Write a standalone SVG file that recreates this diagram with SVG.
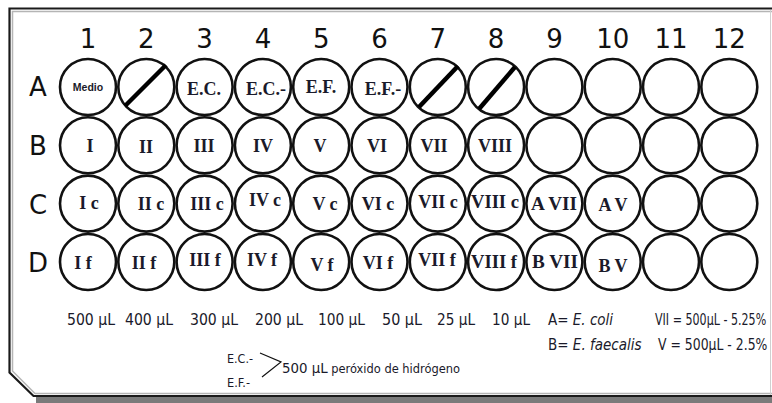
<svg xmlns="http://www.w3.org/2000/svg" width="772" height="403" viewBox="0 0 772 403">
<style>
.well{fill:#fff;stroke:#111;stroke-width:2.6}
.slash{stroke:#000;stroke-width:4.5;stroke-linecap:butt}
.hdr{font-family:"DejaVu Sans",sans-serif;font-size:26px;fill:#111;text-anchor:middle}
.wt{font-family:"Liberation Serif",serif;font-weight:bold;font-size:18px;fill:#1a1a2a;text-anchor:middle}
.med{font-family:"Liberation Sans",sans-serif;font-weight:bold;font-size:10.5px;fill:#1a1a2a;text-anchor:middle}
.cond{font-family:"DejaVu Sans",sans-serif;font-stretch:condensed;font-size:15px;fill:#1a1a2a}
.sq{font-family:"DejaVu Sans",sans-serif;font-size:15px;fill:#1a1a2a}
.small{font-family:"DejaVu Sans",sans-serif;font-stretch:condensed;font-size:12px;fill:#1a1a2a}
.conn{fill:none;stroke:#111;stroke-width:1.2}
</style>
<rect width="772" height="403" fill="#fff"/>
<g id="plate">
<rect x="36" y="397" width="740" height="6" fill="#7a7a7a"/>
<path d="M775 11.5H12.5V371L35 393.5H775" fill="none" stroke="#b5b5b5" stroke-width="1.5"/>
<path d="M775 8.5H9.5V372.5L33.5 396H775" fill="none" stroke="#1a1a1a" stroke-width="2.2"/>
<line x1="770.5" y1="10" x2="770.5" y2="395" stroke="#d0d0d0" stroke-width="1"/>
</g>
<g id="column-labels">
<text class="hdr" x="88" y="48">1</text>
<text class="hdr" x="146.3" y="48">2</text>
<text class="hdr" x="204.6" y="48">3</text>
<text class="hdr" x="262.9" y="48">4</text>
<text class="hdr" x="321.2" y="48">5</text>
<text class="hdr" x="379.5" y="48">6</text>
<text class="hdr" x="437.8" y="48">7</text>
<text class="hdr" x="496.1" y="48">8</text>
<text class="hdr" x="554.4" y="48">9</text>
<text class="hdr" x="612.7" y="48">10</text>
<text class="hdr" x="671" y="48">11</text>
<text class="hdr" x="729.3" y="48">12</text>
</g>
<g id="row-labels">
<text class="hdr" x="38" y="96">A</text>
<text class="hdr" x="38" y="155">B</text>
<text class="hdr" x="38" y="214">C</text>
<text class="hdr" x="38" y="272">D</text>
</g>
<g id="row-A">
<g id="A1"><circle class="well" cx="88" cy="87" r="28"/><text class="med" x="88" y="91">Medio</text></g>
<g id="A2"><circle class="well" cx="146.3" cy="87" r="28"/><line class="slash" x1="125" y1="106" x2="166" y2="65"/></g>
<g id="A3"><circle class="well" cx="204.6" cy="87" r="28"/><text class="wt" x="204" y="95" font-weight="normal">E.C.</text></g>
<g id="A4"><circle class="well" cx="262.9" cy="87" r="28"/><text class="wt" x="266" y="95" font-weight="normal">E.C.-</text></g>
<g id="A5"><circle class="well" cx="321.2" cy="87" r="28"/><text class="wt" x="321" y="93" font-weight="normal">E.F.</text></g>
<g id="A6"><circle class="well" cx="379.5" cy="87" r="28"/><text class="wt" x="383" y="95" font-weight="normal">E.F.-</text></g>
<g id="A7"><circle class="well" cx="437.8" cy="87" r="28"/><line class="slash" x1="419" y1="107" x2="458" y2="66"/></g>
<g id="A8"><circle class="well" cx="496.1" cy="87" r="28"/><line class="slash" x1="479" y1="109" x2="515" y2="67"/></g>
<g id="A9"><circle class="well" cx="554.4" cy="87" r="28"/></g>
<g id="A10"><circle class="well" cx="612.7" cy="87" r="28"/></g>
<g id="A11"><circle class="well" cx="671" cy="87" r="28"/></g>
<g id="A12"><circle class="well" cx="729.3" cy="87" r="28"/></g>
</g>
<g id="row-B">
<g id="B1"><circle class="well" cx="88" cy="145.3" r="28"/><text class="wt" x="90" y="152">I</text></g>
<g id="B2"><circle class="well" cx="146.3" cy="145.3" r="28"/><text class="wt" x="146" y="153">II</text></g>
<g id="B3"><circle class="well" cx="204.6" cy="145.3" r="28"/><text class="wt" x="204" y="152">III</text></g>
<g id="B4"><circle class="well" cx="262.9" cy="145.3" r="28"/><text class="wt" x="263" y="152">IV</text></g>
<g id="B5"><circle class="well" cx="321.2" cy="145.3" r="28"/><text class="wt" x="320" y="152">V</text></g>
<g id="B6"><circle class="well" cx="379.5" cy="145.3" r="28"/><text class="wt" x="377" y="152">VI</text></g>
<g id="B7"><circle class="well" cx="437.8" cy="145.3" r="28"/><text class="wt" x="434" y="152">VII</text></g>
<g id="B8"><circle class="well" cx="496.1" cy="145.3" r="28"/><text class="wt" x="495" y="152">VIII</text></g>
<g id="B9"><circle class="well" cx="554.4" cy="145.3" r="28"/></g>
<g id="B10"><circle class="well" cx="612.7" cy="145.3" r="28"/></g>
<g id="B11"><circle class="well" cx="671" cy="145.3" r="28"/></g>
<g id="B12"><circle class="well" cx="729.3" cy="145.3" r="28"/></g>
</g>
<g id="row-C">
<g id="C1"><circle class="well" cx="88" cy="203.6" r="28"/><text class="wt" x="89" y="209">I c</text></g>
<g id="C2"><circle class="well" cx="146.3" cy="203.6" r="28"/><text class="wt" x="151" y="210">II c</text></g>
<g id="C3"><circle class="well" cx="204.6" cy="203.6" r="28"/><text class="wt" x="207" y="210">III c</text></g>
<g id="C4"><circle class="well" cx="262.9" cy="203.6" r="28"/><text class="wt" x="265" y="206">IV c</text></g>
<g id="C5"><circle class="well" cx="321.2" cy="203.6" r="28"/><text class="wt" x="325" y="210">V c</text></g>
<g id="C6"><circle class="well" cx="379.5" cy="203.6" r="28"/><text class="wt" x="378" y="210">VI c</text></g>
<g id="C7"><circle class="well" cx="437.8" cy="203.6" r="28"/><text class="wt" x="438" y="208">VII c</text></g>
<g id="C8"><circle class="well" cx="496.1" cy="203.6" r="28"/><text class="wt" x="495" y="208" textLength="48" lengthAdjust="spacingAndGlyphs">VIII c</text></g>
<g id="C9"><circle class="well" cx="554.4" cy="203.6" r="28"/><text class="wt" x="554" y="210" textLength="46" lengthAdjust="spacingAndGlyphs">A VII</text></g>
<g id="C10"><circle class="well" cx="612.7" cy="203.6" r="28"/><text class="wt" x="613" y="211">A V</text></g>
<g id="C11"><circle class="well" cx="671" cy="203.6" r="28"/></g>
<g id="C12"><circle class="well" cx="729.3" cy="203.6" r="28"/></g>
</g>
<g id="row-D">
<g id="D1"><circle class="well" cx="88" cy="262" r="28"/><text class="wt" x="83" y="269">I f</text></g>
<g id="D2"><circle class="well" cx="146.3" cy="262" r="28"/><text class="wt" x="144" y="269">II f</text></g>
<g id="D3"><circle class="well" cx="204.6" cy="262" r="28"/><text class="wt" x="205" y="266">III f</text></g>
<g id="D4"><circle class="well" cx="262.9" cy="262" r="28"/><text class="wt" x="262" y="266">IV f</text></g>
<g id="D5"><circle class="well" cx="321.2" cy="262" r="28"/><text class="wt" x="322" y="271">V f</text></g>
<g id="D6"><circle class="well" cx="379.5" cy="262" r="28"/><text class="wt" x="378" y="269">VI f</text></g>
<g id="D7"><circle class="well" cx="437.8" cy="262" r="28"/><text class="wt" x="437" y="266">VII f</text></g>
<g id="D8"><circle class="well" cx="496.1" cy="262" r="28"/><text class="wt" x="494" y="268" textLength="46" lengthAdjust="spacingAndGlyphs">VIII f</text></g>
<g id="D9"><circle class="well" cx="554.4" cy="262" r="28"/><text class="wt" x="555" y="268" textLength="46" lengthAdjust="spacingAndGlyphs">B VII</text></g>
<g id="D10"><circle class="well" cx="612.7" cy="262" r="28"/><text class="wt" x="613" y="272">B V</text></g>
<g id="D11"><circle class="well" cx="671" cy="262" r="28"/></g>
<g id="D12"><circle class="well" cx="729.3" cy="262" r="28"/></g>
</g>
<g id="volumes">
<text class="cond" x="67" y="325" textLength="48" lengthAdjust="spacingAndGlyphs">500 µL</text>
<text class="cond" x="125" y="325" textLength="48" lengthAdjust="spacingAndGlyphs">400 µL</text>
<text class="cond" x="190" y="325" textLength="48" lengthAdjust="spacingAndGlyphs">300 µL</text>
<text class="cond" x="255" y="325" textLength="48" lengthAdjust="spacingAndGlyphs">200 µL</text>
<text class="cond" x="318" y="325" textLength="47" lengthAdjust="spacingAndGlyphs">100 µL</text>
<text class="cond" x="382" y="325" textLength="40" lengthAdjust="spacingAndGlyphs">50 µL</text>
<text class="cond" x="437" y="325" textLength="38" lengthAdjust="spacingAndGlyphs">25 µL</text>
<text class="cond" x="492" y="325" textLength="38" lengthAdjust="spacingAndGlyphs">10 µL</text>
</g>
<g id="legend">
<text class="cond" x="548" y="325">A= <tspan font-style="italic">E. coli</tspan></text>
<text class="cond" x="548" y="350">B= <tspan font-style="italic">E. faecalis</tspan></text>
<text class="sq" transform="translate(655 325) scale(0.74 1)">VII = 500µL - 5.25%</text>
<text class="sq" transform="translate(658 350) scale(0.83 1)">V = 500µL - 2.5%</text>
</g>
<g id="peroxide-note">
<text class="small" x="227" y="363" textLength="26" lengthAdjust="spacingAndGlyphs">E.C.-</text>
<text class="small" x="227" y="387" textLength="23" lengthAdjust="spacingAndGlyphs">E.F.-</text>
<text class="small" x="282" y="373" textLength="178" lengthAdjust="spacingAndGlyphs"><tspan font-size="14px">500 µL</tspan> peróxido de hidrógeno</text>
</g>
<g id="connectors">
<polyline class="conn" points="260,353 281,362 262,377"/>
</g>
</svg>
